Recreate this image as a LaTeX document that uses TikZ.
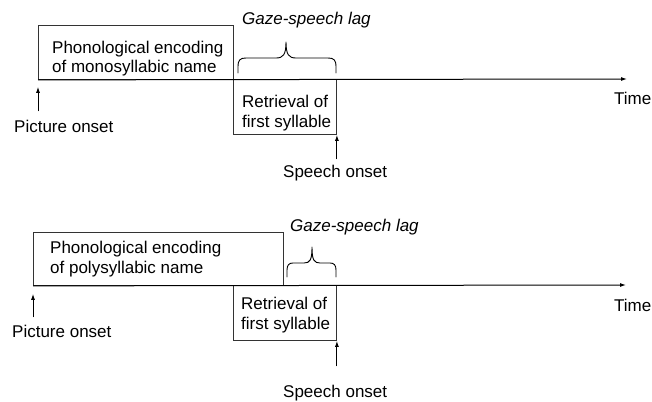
\documentclass[tikz,border=0pt]{standalone}
\usepackage{fontspec}
\setmainfont{Liberation Sans}
\usetikzlibrary{arrows.meta}
\begin{document}
\begin{tikzpicture}[x=1pt,y=-1pt,
  txt/.style={inner sep=0pt, anchor=base west, align=left, font=\fontsize{17}{19.5}\selectfont},
  lag/.style={txt, font=\fontsize{17}{19.5}\selectfont\itshape},
  stage/.style={draw=black!80, line width=0.9pt, inner sep=0pt, anchor=north west},
  axis/.style={line width=1pt, -{Latex[length=6pt,width=4pt]}},
  onset/.style={line width=0.9pt, -{Latex[length=6pt,width=4pt]}},
  gbrace/.style={line width=0.9pt, line join=round, line cap=round}
]
\useasboundingbox (0,0) rectangle (652,401);

% ---------- top panel ----------
\node[stage, minimum width=195pt, minimum height=54pt] (enc1) at (38,25) {};
\node[stage, minimum width=103pt, minimum height=55pt] (ret1) at (233,79) {};
\coordinate (tend1) at (627,79);
\draw[axis] (enc1.south west) -- (tend1);

% base anchor of a two-line node is the baseline of its last line
\node[txt] (enc1t) at (52,73) {Phonological encoding\\of monosyllabic name};
\node[txt] (ret1t) at (242,127) {Retrieval of\\first syllable};
\node[lag] (lag1) at (242,25) {Gaze-speech lag};
\node[txt] (time1) at (614,105) {Time};
\node[txt] (pic1) at (14,132) {Picture onset};
\node[txt] (sp1) at (283,177) {Speech onset};

\draw[onset] ([yshift=8pt]pic1.north -| enc1.south west) -- ([yshift=-7pt]enc1.south west);
\draw[onset] ([yshift=5pt]sp1.north -| ret1.south east) -- (ret1.south east);

\draw[gbrace] (238,73) -- (238,67) .. controls (238,60) and (240,58) .. (246,58)
  -- (276,58) .. controls (283,58) and (286,55) .. (286,42)
  .. controls (286,55) and (289,58) .. (296,58)
  -- (328,58) .. controls (334,58) and (336,60) .. (336,67) -- (336,73);

% ---------- bottom panel ----------
\node[stage, minimum width=250pt, minimum height=53pt] (enc2) at (33,232) {};
\node[stage, minimum width=103pt, minimum height=55pt] (ret2) at (233,285) {};
\coordinate (tend2) at (626,285);
\draw[axis] (enc2.south west) -- (tend2);

\node[txt] (enc2t) at (50,273) {Phonological encoding\\of polysyllabic name};
\node[txt] (ret2t) at (241,329) {Retrieval of\\first syllable};
\node[lag] (lag2) at (290,231) {Gaze-speech lag};
\node[txt] (time2) at (614,311) {Time};
\node[txt] (pic2) at (12,337) {Picture onset};
\node[txt] (sp2) at (283,397) {Speech onset};

\draw[onset] ([yshift=7pt]pic2.north -| enc2.south west) -- ([yshift=-8pt]enc2.south west);
\draw[onset] ([yshift=18pt]sp2.north -| ret2.south east) -- (ret2.south east);

\draw[gbrace] (287,277) -- (287,270) .. controls (287,265) and (289,263) .. (293,263)
  -- (304,263) .. controls (310,263) and (312,260) .. (312,247)
  .. controls (312,260) and (314,263) .. (320,263)
  -- (330,263) .. controls (334,263) and (336,265) .. (336,270) -- (336,277);
\end{tikzpicture}
\end{document}
